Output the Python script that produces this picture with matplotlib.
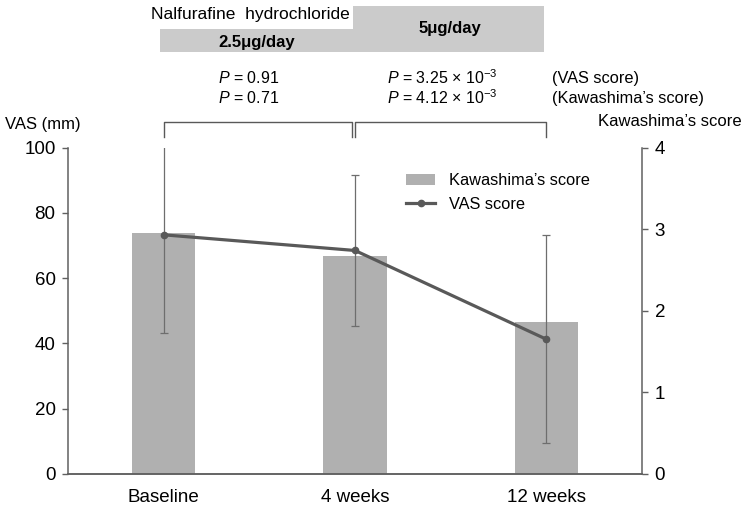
import numpy as np
from matplotlib import pyplot as plt
from matplotlib.patches import Rectangle

plt.rcParams['font.family'] = ['Liberation Sans', 'DejaVu Sans']
plt.rcParams['mathtext.fontset'] = 'custom'
plt.rcParams['mathtext.rm'] = 'Liberation Sans'
plt.rcParams['mathtext.it'] = 'Liberation Sans:italic'

# data
timepoints = ['Baseline', '4 weeks', '12 weeks']
vas_mean = [73.3, 68.5, 41.3]
vas_sd = [30.0, 23.0, 31.8]
kawashima = [2.95, 2.67, 1.86]
p_left = ['$\\mathit{P}$ = 0.91', '$\\mathit{P}$ = 0.71']
p_right = ['$\\mathit{P}$ = 3.25 \u00d7 10$^{-3}$', '$\\mathit{P}$ = 4.12 \u00d7 10$^{-3}$']
p_names = ['(VAS score)', '(Kawashima\u2019s score)']

W, H = 749, 505
fig = plt.figure(figsize=(W / 100, H / 100), dpi=100)

def fx(px):
    return px / W

def fy(py):
    return 1 - py / H

ax = fig.add_axes([fx(68), fy(474), fx(642) - fx(68), fy(147.7) - fy(474)])
ax2 = ax.twinx()
ax.set_zorder(ax2.get_zorder() + 1)
ax.patch.set_visible(False)

x = np.arange(len(timepoints))
spine_c = '#606060'

bars = ax2.bar(x, kawashima, width=0.33, color='#b0b0b0', label='Kawashima\u2019s score')
ax2.set_ylim(0, 4)
ax2.set_yticks([0, 1, 2, 3, 4])

ax.errorbar(x, vas_mean, yerr=vas_sd, fmt='none', ecolor='#6e6e6e', elinewidth=0.9,
            capsize=3, capthick=0.9)
line, = ax.plot(x, vas_mean, color='#595959', lw=2.3, marker='o', ms=4.5, label='VAS score')
ax.set_ylim(0, 100)
ax.set_yticks([0, 20, 40, 60, 80, 100])
ax.set_xlim(-0.5, 2.5)
ax.set_xticks(x)
ax.set_xticklabels(timepoints)

for a in (ax, ax2):
    for s in a.spines.values():
        s.set_color(spine_c)
        s.set_linewidth(1.1)
    a.spines['top'].set_visible(False)
ax.spines['right'].set_visible(False)
ax2.spines['left'].set_visible(False)
ax.tick_params(axis='x', length=0, labelsize=13.5, pad=11, colors='black')
ax.tick_params(axis='y', length=4, width=1, color=spine_c, labelsize=13.5, pad=5)
ax2.tick_params(axis='y', length=4, width=1, color=spine_c, labelsize=13.5, pad=5)

# brackets
bc = '#595959'
ax.plot([0, 0, 0.985, 0.985], [103.3, 107.9, 107.9, 103.3], color=bc, lw=1, clip_on=False)
ax.plot([1.0, 1.0, 2.0, 2.0], [103.3, 107.9, 107.9, 103.3], color=bc, lw=1, clip_on=False)

ax.legend([bars, line], ['Kawashima\u2019s score', 'VAS score'], loc='upper left',
          bbox_to_anchor=(fx(406), fy(173)), bbox_transform=fig.transFigure,
          frameon=False, fontsize=11.8,
          borderpad=0, borderaxespad=0, handlelength=1.8, handletextpad=0.8,
          labelspacing=0.55)

# header dose boxes
box_c = '#cbcbcb'
fig.add_artist(Rectangle((fx(160), fy(52)), fx(353) - fx(160), fy(29) - fy(52),
                         transform=fig.transFigure, color=box_c, lw=0))
fig.add_artist(Rectangle((fx(353), fy(52)), fx(544) - fx(353), fy(6) - fy(52),
                         transform=fig.transFigure, color=box_c, lw=0))
fig.text(fx(151), fy(15), 'Nalfurafine  hydrochloride', fontsize=12.5, va='center', ha='left')
fig.text(fx(257), fy(42), '2.5\u03bcg/day', fontsize=12, fontweight='bold', va='center', ha='center')
fig.text(fx(450), fy(29), '5\u03bcg/day', fontsize=12, fontweight='bold', va='center', ha='center')

for i in range(2):
    yy = fy(78 + 20 * i)
    fig.text(fx(218), yy, p_left[i], fontsize=11.5, va='center', ha='left')
    fig.text(fx(387), yy, p_right[i], fontsize=11.5, va='center', ha='left')
    fig.text(fx(552), yy, p_names[i], fontsize=11.8, va='center', ha='left')

fig.text(fx(5), fy(124), 'VAS (mm)', fontsize=12, va='center', ha='left')
fig.text(fx(742), fy(122), 'Kawashima\u2019s score', fontsize=12, va='center', ha='right')

fig.savefig('out.png', dpi=100)
